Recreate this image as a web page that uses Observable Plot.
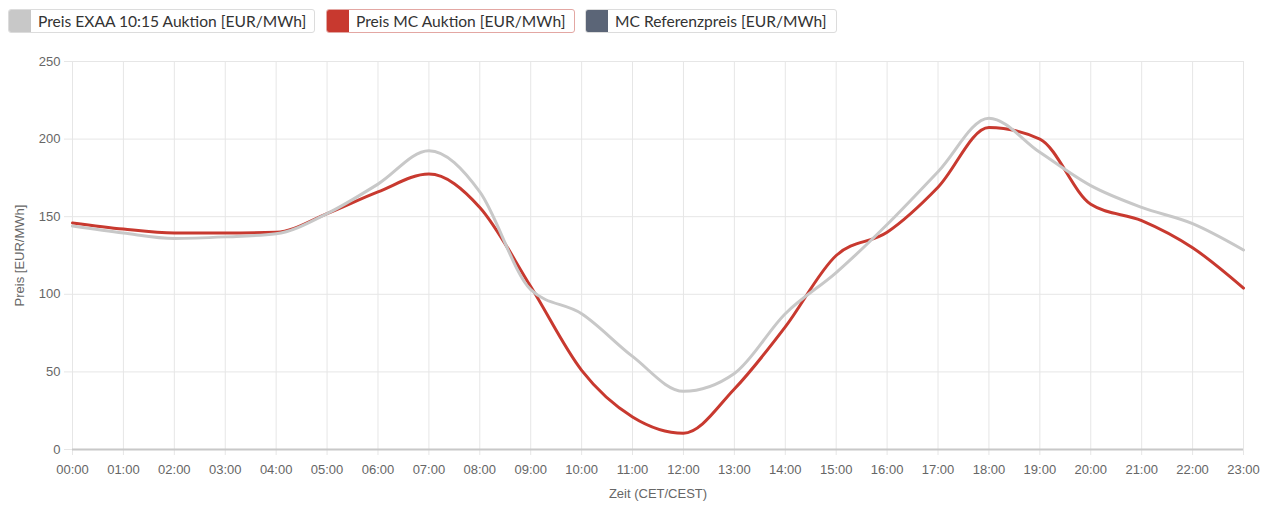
<!DOCTYPE html>
<html>
<head>
<meta charset="utf-8">
<script src="https://cdn.jsdelivr.net/npm/d3@7"></script>
<script src="https://cdn.jsdelivr.net/npm/@observablehq/plot@0.6"></script>
<style>
  html, body { margin: 0; padding: 0; background: #fff; }
  #legend { position: relative; height: 40px; font-family: Lato, "Open Sans", sans-serif; }
  .item { position: absolute; top: 9px; height: 24px; border: 1px solid #dcdcdc; border-radius: 3px; display: flex; align-items: center; background: #fff; box-sizing: border-box; overflow: hidden; }
  .sw { width: 22px; height: 100%; }
  .lbl { padding: 0 0 0 7px; font-size: 15.6px; color: #333; white-space: nowrap; }
  #chart { position: absolute; top: 40px; left: 0; }
</style>
</head>
<body>
<div id="legend"></div>
<div id="chart"></div>
<script>
const hours = [0,1,2,3,4,5,6,7,8,9,10,11,12,13,14,15,16,17,18,19,20,21,22,23];
const hourLabels = ["00:00","01:00","02:00","03:00","04:00","05:00","06:00","07:00","08:00","09:00","10:00","11:00","12:00","13:00","14:00","15:00","16:00","17:00","18:00","19:00","20:00","21:00","22:00","23:00"];
const exaa = [144,139.5,136,137,139,152,171,192.5,166,103,87.5,60,37.5,49,87.5,114,145,179,213.5,191.5,170,156,145.5,128.5];
const mc   = [146,142,139.5,139.5,140,152,166,177.5,156,105,51,21,10.5,39,79,125,140,169,207.5,200,158,147.5,130,104];
const seriesNames = ["Preis EXAA 10:15 Auktion [EUR/MWh]", "Preis MC Auktion [EUR/MWh]", "MC Referenzpreis [EUR/MWh]"];
const seriesColors = ["#c8c8c8", "#c8392f", "#5b6577"];
const yTicks = [0,50,100,150,200,250];

// legend
const legendPos = [{left: 8, width: 307, border: "#dcdcdc"}, {left: 326, width: 249, border: "#e3a7a3"}, {left: 585, width: 252, border: "#dcdcdc"}];
const legend = document.getElementById("legend");
seriesNames.forEach((n, i) => {
  const it = document.createElement("div");
  it.className = "item";
  it.style.left = legendPos[i].left + "px";
  it.style.width = legendPos[i].width + "px";
  it.style.borderColor = legendPos[i].border;
  const sw = document.createElement("div");
  sw.className = "sw";
  sw.style.background = seriesColors[i];
  const lb = document.createElement("div");
  lb.className = "lbl";
  lb.textContent = n;
  it.appendChild(sw); it.appendChild(lb);
  legend.appendChild(it);
});

const dataExaa = hours.map((h, i) => ({h, v: exaa[i]}));
const dataMc = hours.map((h, i) => ({h, v: mc[i]}));

const chart = Plot.plot({
  width: 1270,
  height: 473,
  marginTop: 21,
  marginBottom: 64,
  marginLeft: 72,
  marginRight: 27,
  style: {fontFamily: "'Liberation Sans', Arial, sans-serif", fontSize: "13px", color: "#666", background: "transparent"},
  x: {domain: [0, 23]},
  y: {domain: [0, 250]},
  marks: [
    Plot.gridX(hours, {stroke: "#e6e6e6", strokeOpacity: 1}),
    Plot.gridY(yTicks, {stroke: "#e6e6e6", strokeOpacity: 1}),
    Plot.axisX(hours, {tickSize: 6, stroke: "#e6e6e6", strokeOpacity: 1, tickPadding: 9, tickFormat: d => hourLabels[d], fill: "#666", fontSize: 13, label: "Zeit (CET/CEST)", labelAnchor: "center", labelArrow: "none", labelOffset: 48}),
    Plot.axisY(yTicks, {tickSize: 8, stroke: "#e6e6e6", strokeOpacity: 1, tickPadding: 4, fill: "#666", fontSize: 13, label: "Preis [EUR/MWh]", labelAnchor: "center", labelArrow: "none", labelOffset: 58}),
    Plot.ruleY([0], {stroke: "#c8c8c8", strokeWidth: 2}),
    Plot.line(dataMc, {x: "h", y: "v", stroke: seriesColors[1], strokeWidth: 3, curve: "monotone-x"}),
    Plot.line(dataExaa, {x: "h", y: "v", stroke: seriesColors[0], strokeWidth: 3, curve: "monotone-x"})
  ]
});
document.getElementById("chart").appendChild(chart);
</script>
</body>
</html>
